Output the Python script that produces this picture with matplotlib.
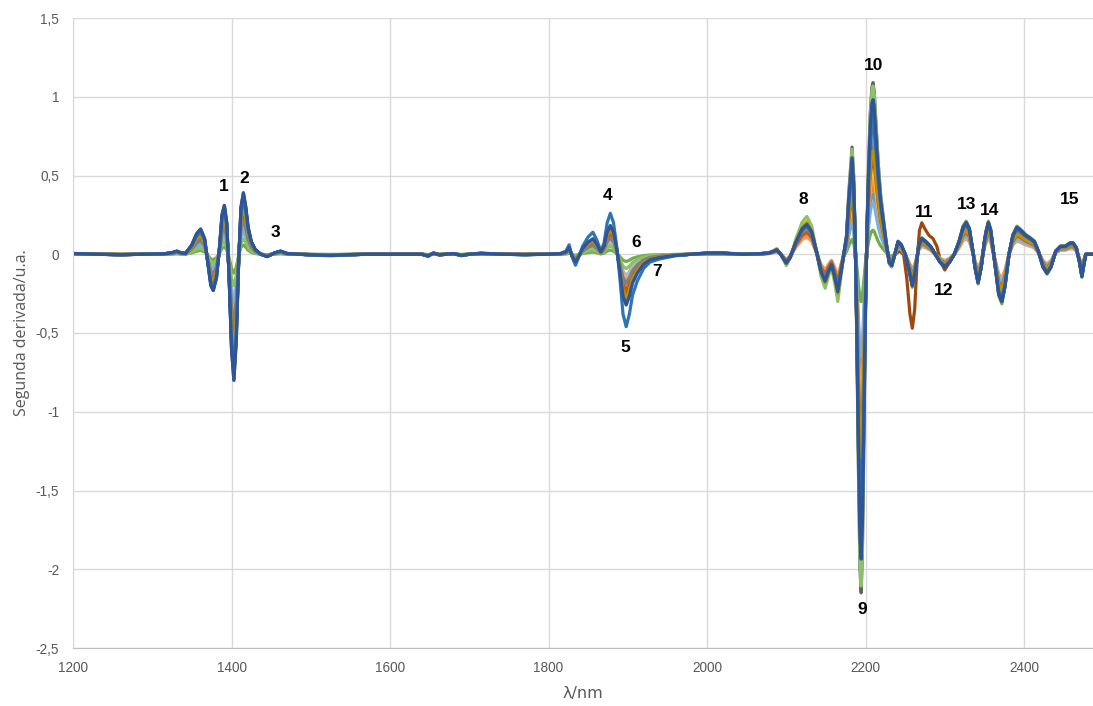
import numpy as np
import matplotlib
matplotlib.use("Agg")
import matplotlib.pyplot as plt
from matplotlib.ticker import FuncFormatter, MultipleLocator

# Wavelength nodes (nm) and the second-derivative profile of the strongest sample
wl = [
    1200, 1230, 1260, 1290, 1315, 1325, 1331, 1336, 1342,
    1350, 1356, 1361, 1366, 1370, 1374, 1377, 1381, 1385, 1388, 1391, 1394, 1397,
    1400, 1403, 1406, 1409, 1412, 1415, 1418, 1421, 1425, 1430, 1437, 1445, 1455,
    1462, 1470, 1485,
    1500, 1525, 1545, 1570, 1610, 1640, 1648, 1655, 1662, 1680, 1690, 1700, 1715,
    1740, 1770, 1800, 1815,
    1822, 1826, 1830, 1834, 1838, 1843, 1850, 1856, 1861, 1866, 1870, 1874, 1878,
    1882, 1886, 1890, 1894, 1898, 1902, 1906, 1912, 1920, 1928, 1940, 1960, 1980,
    2000, 2020, 2045, 2065,
    2078, 2084, 2088, 2093, 2100, 2105, 2112, 2120, 2126, 2132, 2138, 2144, 2149,
    2153, 2157, 2161, 2165, 2169, 2172, 2176, 2179, 2183, 2185, 2187, 2189, 2191,
    2193, 2194.5, 2196, 2198, 2200, 2202, 2204, 2206, 2208, 2209.5, 2211, 2213,
    2216, 2219, 2222, 2226, 2230, 2233,
    2237, 2241, 2245, 2250, 2255, 2259, 2263, 2267, 2271, 2276, 2282, 2288, 2294,
    2300, 2306, 2312, 2318, 2323, 2327, 2331, 2336, 2338, 2342, 2346, 2350, 2352,
    2355, 2358, 2363, 2368, 2372, 2376, 2381, 2386, 2391, 2396, 2402, 2408, 2413,
    2418, 2424, 2429, 2434, 2440, 2446, 2452, 2458, 2462, 2466, 2470, 2473, 2476,
    2478, 2487,
]
profile = [
    0.005, 0.0, -0.003, 0.0, 0.003, 0.01, 0.02, 0.01, 0.005,
    0.06, 0.13, 0.16, 0.10, -0.05, -0.20, -0.23, -0.15, 0.05, 0.25, 0.31, 0.20, -0.15,
    -0.60, -0.80, -0.55, -0.05, 0.30, 0.39, 0.30, 0.17, 0.08, 0.03, 0.0, -0.015, 0.01,
    0.02, 0.005, 0.0,
    -0.005, -0.01, -0.005, 0.0, 0.0, 0.0, -0.015, 0.01, -0.005, 0.005, -0.01, 0.0, 0.008,
    0.0, -0.003, 0.0, 0.005,
    0.02, 0.06, -0.02, -0.07, -0.02, 0.05, 0.11, 0.14, 0.09, 0.02, 0.07, 0.20, 0.26,
    0.20, 0.05, -0.15, -0.38, -0.46, -0.38, -0.26, -0.17, -0.09, -0.05, -0.03, -0.01, 0.0,
    0.01, 0.01, 0.0, 0.003,
    0.008, 0.02, 0.03, 0.0, -0.06, -0.02, 0.08, 0.17, 0.20, 0.15, 0.02, -0.12, -0.18,
    -0.12, -0.07, -0.15, -0.25, -0.12, -0.02, 0.12, 0.40, 0.68, 0.50, 0.10, -0.55, -1.35,
    -2.00, -2.15, -1.90, -1.10, -0.35, 0.20, 0.60, 0.90, 1.06, 1.09, 1.03, 0.85,
    0.58, 0.38, 0.25, 0.08, -0.06, -0.08,
    0.0, 0.08, 0.06, 0.0, -0.10, -0.20, -0.10, 0.05, 0.10, 0.08, 0.05, 0.0, -0.05,
    -0.08, -0.05, 0.0, 0.08, 0.17, 0.20, 0.16, 0.0, -0.08, -0.18, -0.08, 0.08, 0.14,
    0.20, 0.15, -0.05, -0.25, -0.30, -0.20, 0.0, 0.12, 0.17, 0.15, 0.12, 0.10, 0.08,
    0.02, -0.08, -0.12, -0.08, 0.02, 0.05, 0.05, 0.07, 0.07, 0.04, -0.05, -0.14, -0.05,
    0.0, 0.0,
]

# Spectral bands: <1490 | 1490-2060 | 2060-2172 | 2172-2236 | >2236
band_edges = [1490, 2060, 2172, 2236]

# Sample colours and their relative band intensities
series_colors = [
    "#4472C4", "#ED7D31", "#A5A5A5", "#FFC000", "#5B9BD5", "#70AD47",
    "#264478", "#9E480E", "#636363", "#997300", "#255E91", "#43682B",
    "#698ED0", "#F1975A", "#B7B7B7", "#FFCD33", "#7CAFDD", "#8CC168",
    "#335AA1", "#C55A11", "#7F7F7F", "#BF9000", "#2E75B6", "#2F5597",
]
series_weights = [
    [0.75, 0.55, 0.90, 0.60, 0.80],
    [0.55, 0.45, 0.60, 0.40, 0.60],
    [0.60, 0.40, 0.80, 0.75, 0.70],
    [0.70, 0.50, 1.05, 0.55, 0.65],
    [0.50, 0.60, 0.85, 0.35, 0.75],
    [0.15, 0.10, 0.70, 0.14, 1.05],
    [0.95, 0.50, 0.90, 0.85, 0.95],
    [0.60, 0.45, 0.80, 0.70, 1.00],
    [0.65, 0.50, 0.80, 1.00, 0.85],
    [0.70, 0.55, 0.90, 0.65, 0.80],
    [1.00, 0.65, 0.95, 0.88, 1.00],
    [0.40, 0.30, 0.75, 0.50, 0.90],
    [0.60, 0.45, 0.85, 0.70, 0.75],
    [0.45, 0.35, 0.55, 0.45, 0.50],
    [0.35, 0.30, 0.70, 0.60, 0.55],
    [0.65, 0.50, 0.95, 0.50, 0.70],
    [0.40, 0.70, 0.80, 0.30, 0.60],
    [0.25, 0.20, 1.20, 0.98, 0.95],
    [0.85, 0.60, 0.90, 0.80, 0.90],
    [0.65, 0.50, 0.70, 0.55, 0.70],
    [0.55, 0.40, 0.85, 0.90, 0.80],
    [0.75, 0.60, 1.00, 0.60, 0.75],
    [0.90, 1.00, 0.90, 0.80, 0.95],
    [1.00, 0.70, 0.95, 0.90, 1.00],
]

# Sample with the distinct 2259 nm band (brown trace)
brown_index = 7
brown_wl = [2237, 2243, 2248, 2252, 2256, 2259, 2262, 2265, 2268, 2271, 2275,
            2280, 2285, 2290, 2295, 2300]
brown_val = [0.0, 0.02, 0.0, -0.15, -0.38, -0.47, -0.35, -0.05, 0.15, 0.20, 0.16,
             0.12, 0.10, 0.05, -0.05, -0.10]

# Band labels
label_text = [str(i) for i in range(1, 16)]
label_x = [1390.5, 1416, 1456, 1875, 1896.5, 1910, 1937, 2122, 2195.6, 2209.5,
           2274, 2298, 2328, 2356, 2457]
label_y = [0.43, 0.48, 0.14, 0.375, -0.59, 0.076, -0.108, 0.35, -2.254, 1.20,
           0.267, -0.229, 0.317, 0.28, 0.35]

x_ticks = [1200, 1400, 1600, 1800, 2000, 2200, 2400]

assert len(wl) == len(profile)

wl_arr = np.array(wl, dtype=float)
prof_arr = np.array(profile)
band = np.searchsorted(band_edges, wl_arr)

fig = plt.figure(figsize=(10.93, 7.06), dpi=100)
ax = fig.add_axes([73 / 1093, 58 / 706, 1020 / 1093, 630 / 706])

for i, (color, w) in enumerate(zip(series_colors, series_weights)):
    y = prof_arr * np.array(w)[band]
    x = wl_arr
    if i == brown_index:
        keep_lo = wl_arr < brown_wl[0]
        keep_hi = wl_arr > brown_wl[-1]
        x = np.concatenate([wl_arr[keep_lo], brown_wl, wl_arr[keep_hi]])
        y = np.concatenate([y[keep_lo], brown_val, y[keep_hi]])
    ax.plot(x, y, color=color, lw=2.3, solid_joinstyle="round",
            solid_capstyle="round", zorder=2 + i * 0.01)

for t, lx, ly in zip(label_text, label_x, label_y):
    ax.text(lx, ly, t, ha="center", va="center", fontsize=12.5,
            fontweight="bold", family=["Liberation Sans", "DejaVu Sans"],
            color="black", zorder=5)

ax.set_xlim(1200, 2487)
ax.set_ylim(-2.5, 1.5)
ax.set_xticks(x_ticks)
ax.yaxis.set_major_locator(MultipleLocator(0.5))
ax.yaxis.set_major_formatter(
    FuncFormatter(lambda v, _: f"{v:g}".replace(".", ",")))

tick_font = ["Liberation Sans Narrow", "Liberation Sans", "DejaVu Sans"]
for lab in ax.get_xticklabels() + ax.get_yticklabels():
    lab.set_family(tick_font)
    lab.set_fontsize(9.8)
    lab.set_color("#595959")
ax.tick_params(axis="both", length=0)
ax.tick_params(axis="x", pad=9)
ax.tick_params(axis="y", pad=10)

ax.grid(True, color="#D9D9D9", lw=1.0)
ax.set_axisbelow(True)
for side in ("top", "right"):
    ax.spines[side].set_visible(False)
ax.spines["left"].set_color("#D9D9D9")
ax.spines["bottom"].set_color("#BFBFBF")

ax.set_xlabel("λ/nm", fontsize=11.5, color="#595959",
              family=["Liberation Sans Narrow", "DejaVu Sans"], labelpad=8)
ax.set_ylabel("Segunda derivada/u.a.", fontsize=11.5, color="#595959",
              family=["Open Sans", "DejaVu Sans"], labelpad=4)

fig.savefig("out.png", dpi=100)
